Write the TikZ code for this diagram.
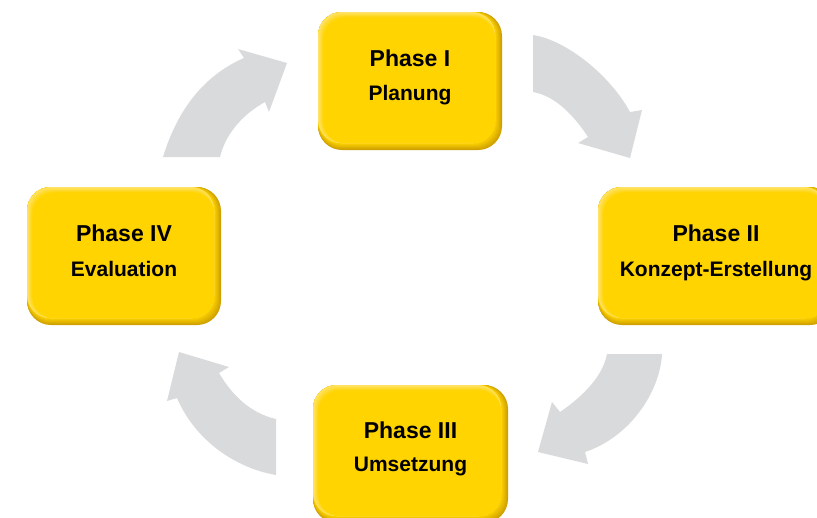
\documentclass[tikz,border=0pt]{standalone}
\usepackage{fontspec}
\setmainfont{Liberation Sans}
\definecolor{core}{HTML}{FFD400}
\definecolor{edgedark}{HTML}{CFA100}
\definecolor{edgelight}{HTML}{FFE46E}
\definecolor{arrowgray}{HTML}{D9DADB}
\tikzset{
  boxframe/.style={rectangle, rounded corners=24pt, inner sep=0pt, draw=none},
  titletext/.style={font=\fontsize{23}{27}\selectfont\bfseries, anchor=base, inner sep=0pt},
  subtext/.style={font=\fontsize{21}{25}\selectfont\bfseries, anchor=base, inner sep=0pt},
  cyclearrow/.style={fill=arrowgray, draw=none},
}
% name, x0, y0, x1, y1
\newcommand\yellowbox[5]{%
  \fill[edgedark, rounded corners=24pt] (#2,#3) rectangle (#4,#5);
  \foreach \i in {1,...,8}{%
    \pgfmathsetmacro\pc{\i*12.5}
    \fill[core!\pc!edgedark, rounded corners=24pt] (#2,#3) rectangle ({#4-\i*0.8},{#5-\i*0.8});
  }
  \fill[edgelight, rounded corners=24pt] (#2,#3) rectangle ({#4-7},{#5-7});
  \foreach \i in {1,...,8}{%
    \pgfmathsetmacro\pc{\i*12.5}
    \fill[core!\pc!edgelight, rounded corners=22pt] ({#2+\i*0.7},{#3+\i*0.7}) rectangle ({#4-7},{#5-7});
  }
  \node[boxframe, minimum width={(#4-#2)*1pt}, minimum height={(#5-#3)*1pt}] (#1) at ({(#2+#4)/2},{(#3+#5)/2}) {};
}
\begin{document}
\begin{tikzpicture}[x=1pt, y=-1pt]
  \useasboundingbox (0,0) rectangle (817,517);
  \clip (0,0) rectangle (817,517);

  % cycle arrows
  \fill[cyclearrow] (163,157) .. controls (178,108) and (205,75) .. (244,58)
    -- (238,49) -- (287,63) -- (269,112) -- (265,102)
    .. controls (245,113) and (226,132) .. (220,157) -- cycle;
  \fill[cyclearrow] (533,35) .. controls (566,40) and (610,75) .. (630,112)
    -- (642,110) -- (630,158) -- (578,143) -- (588,137)
    .. controls (575,117) and (556,96) .. (533,92) -- cycle;
  \fill[cyclearrow] (662,354) .. controls (660,392) and (630,437) .. (585,452)
    -- (588,464) -- (538,452) -- (552,402) -- (560,412)
    .. controls (585,395) and (603,375) .. (607,354) -- cycle;
  \fill[cyclearrow] (276,475) .. controls (235,468) and (195,440) .. (177,398)
    -- (167,401) -- (179,352) -- (229,367) -- (219,373)
    .. controls (232,395) and (250,413) .. (276,419) -- cycle;

  % boxes
  \yellowbox{p1}{318}{12}{502}{150}
  \yellowbox{p2}{598}{187}{834}{325}
  \yellowbox{p3}{313}{385}{508}{523}
  \yellowbox{p4}{27}{187}{221}{325}

  \node[titletext] (p1a) at ([yshift=-54.5pt]p1.north) {Phase I};
  \node[subtext]   (p1b) at ([yshift=-88.5pt]p1.north) {Planung};
  \node[titletext] (p2a) at ([yshift=-54.5pt]p2.north) {Phase II};
  \node[subtext]   (p2b) at ([yshift=-89.5pt]p2.north) {Konzept-Erstellung};
  \node[titletext] (p3a) at ([yshift=-54pt]p3.north) {Phase III};
  \node[subtext]   (p3b) at ([yshift=-87pt]p3.north) {Umsetzung};
  \node[titletext] (p4a) at ([yshift=-54.5pt]p4.north) {Phase IV};
  \node[subtext]   (p4b) at ([yshift=-89.5pt]p4.north) {Evaluation};
\end{tikzpicture}
\end{document}
